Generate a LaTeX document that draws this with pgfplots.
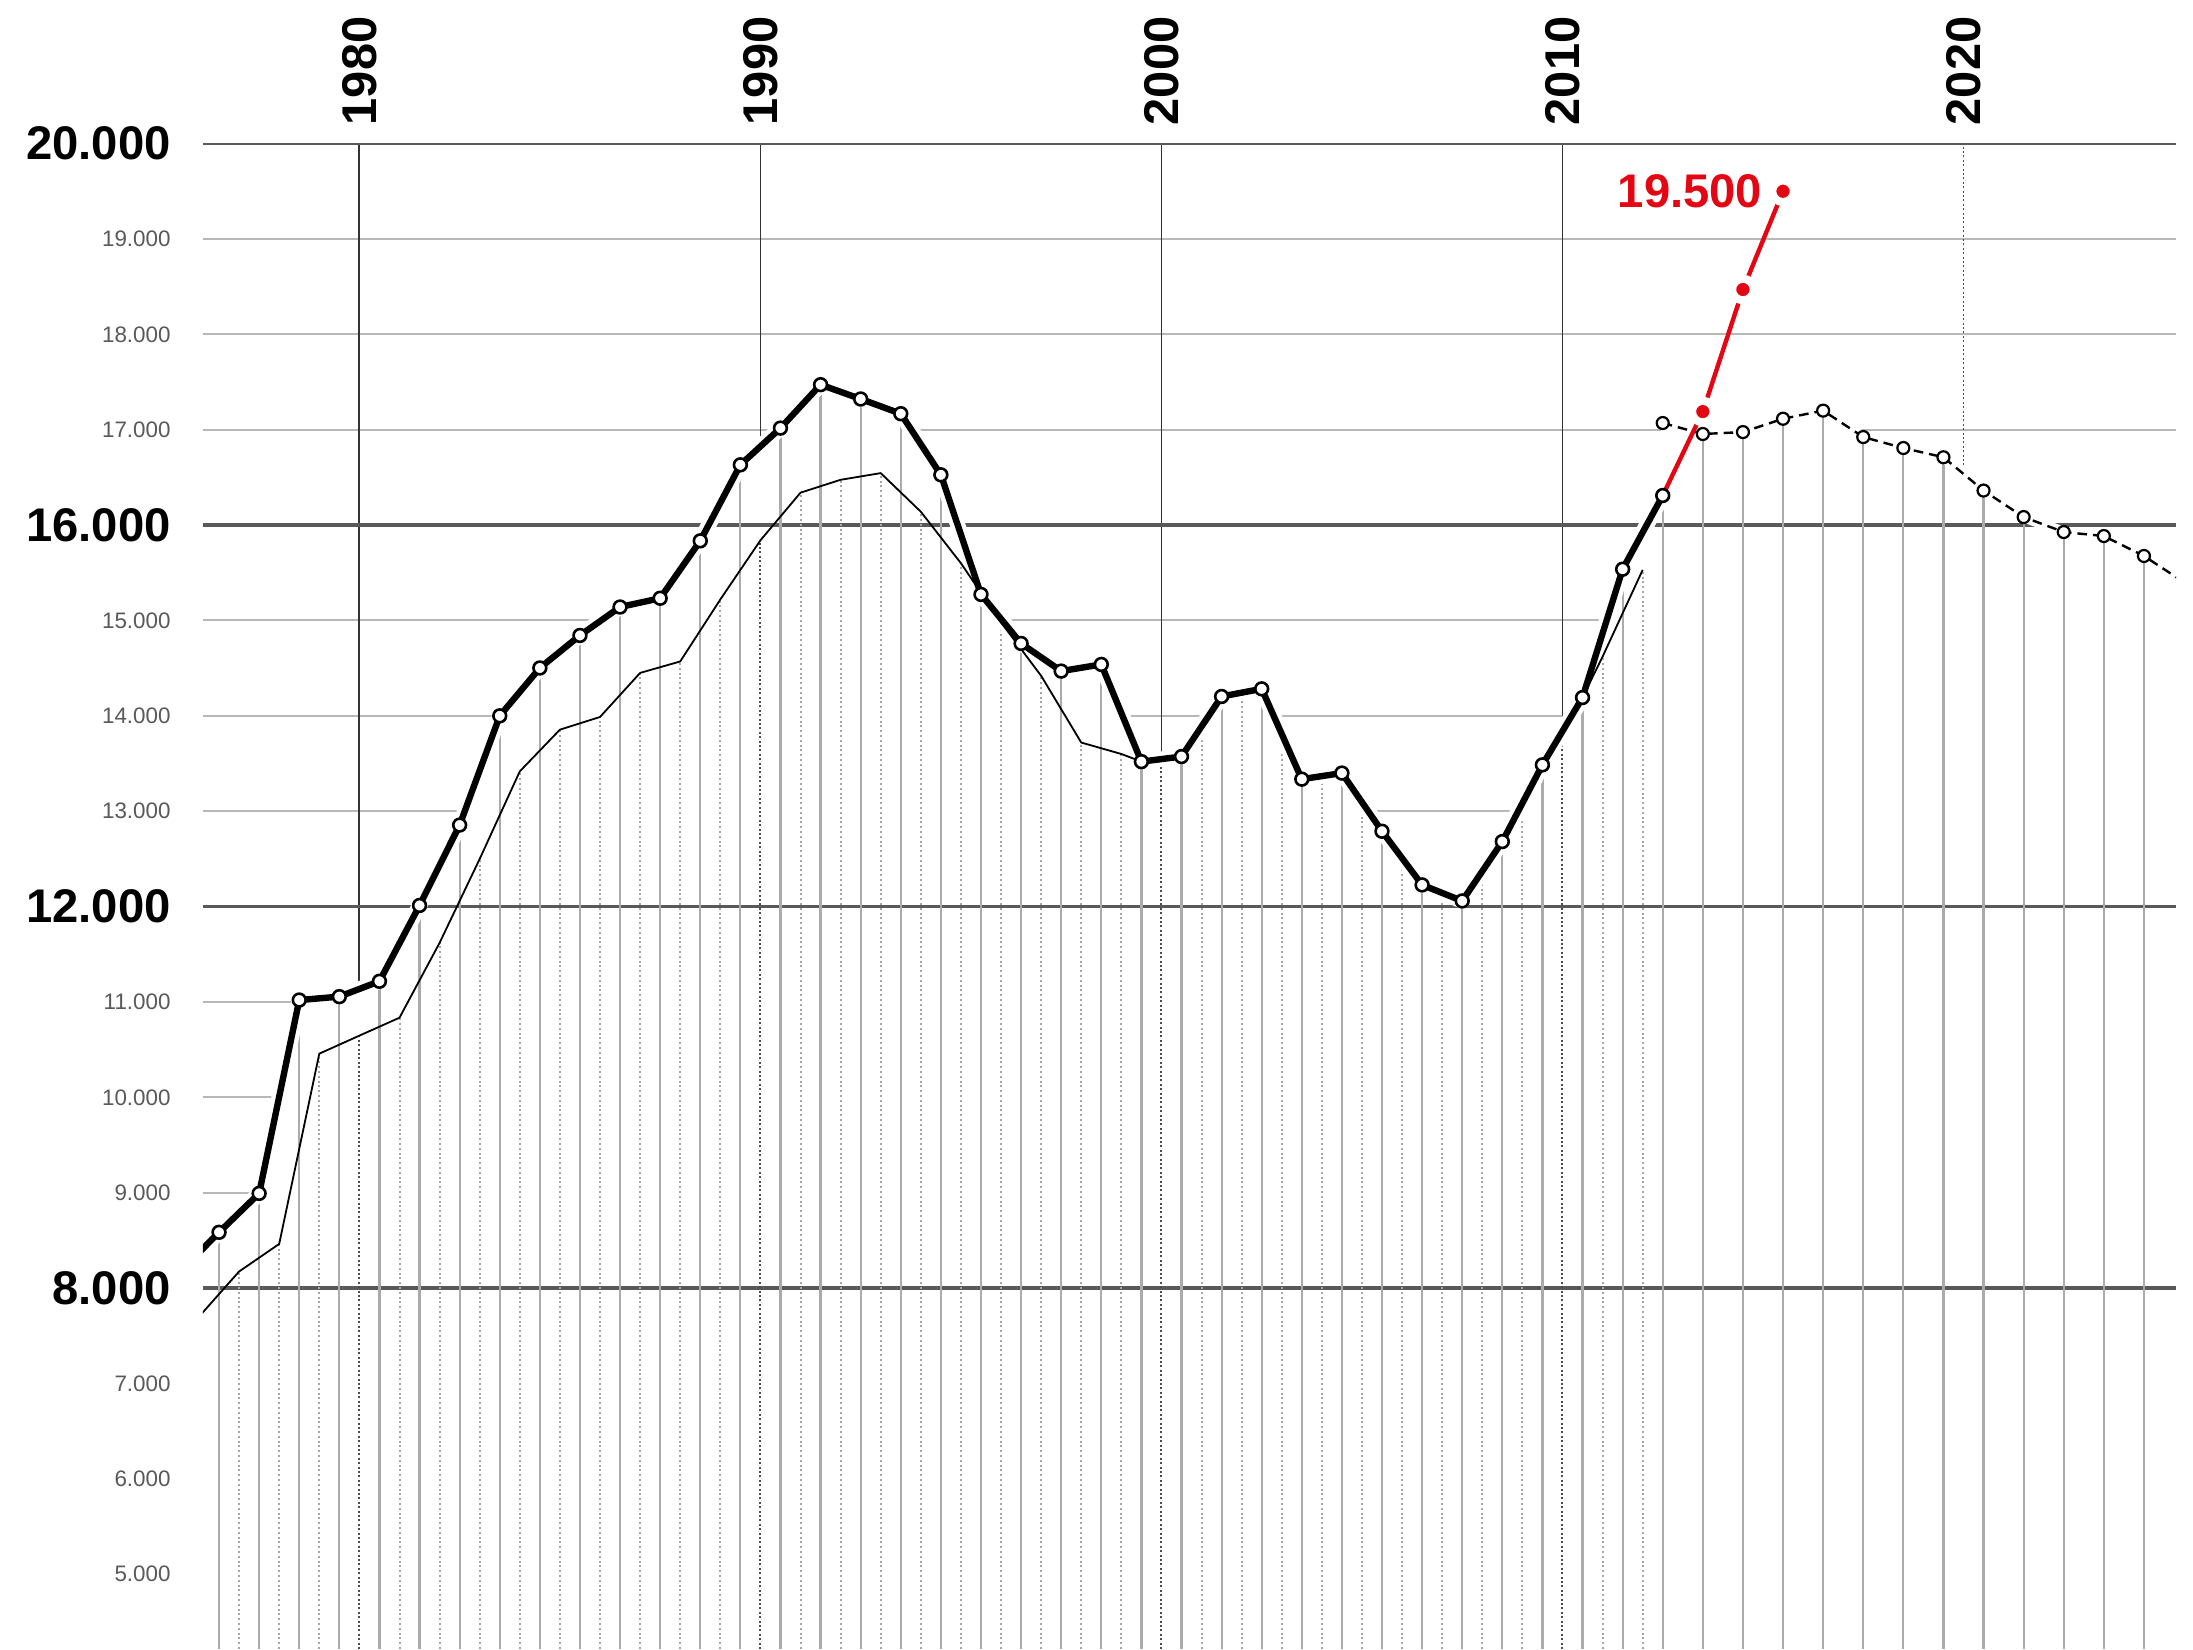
\documentclass[border=0pt]{standalone}
\usepackage{pgfplots}
\pgfplotsset{compat=1.18}
\usepackage{fontspec}
\setmainfont{Liberation Sans}
\definecolor{redline}{RGB}{227,6,19}
\begin{document}
\begin{tikzpicture}
\useasboundingbox (0,0) rectangle (548.25pt,412.25pt);
\begin{axis}[
  at={(50.75pt,0pt)}, anchor=south west,
  scale only axis, width=493.25pt, height=376.35pt,
  xmin=1976.1, xmax=2025.3, ymin=4216, ymax=20000,
  scaled y ticks=false, scaled x ticks=false,
  axis line style={draw=none}, major tick length=0pt, minor tick length=0pt,
  tick style={draw=none},
  xtick={1980,1990,2000,2010}, xticklabels={1980,1990,2000,2010},
  extra x ticks={2020}, extra x tick labels={2020},
  xticklabel pos=upper,
  xticklabel shift=4.4pt,
  xticklabel style={rotate=90, anchor=west, inner sep=0pt, font=\fontsize{12.2}{14}\selectfont\bfseries},
  ytick={5000,6000,7000,9000,10000,11000,13000,14000,15000,17000,18000,19000},
  yticklabels={5.000,6.000,7.000,9.000,10.000,11.000,13.000,14.000,15.000,17.000,18.000,19.000},
  yticklabel shift=7.9pt,
  yticklabel style={anchor=east, inner sep=0pt, text=black!65, font=\fontsize{5.6}{6.5}\selectfont},
  extra y ticks={8000,12000,16000,20000},
  extra y tick labels={8.000,12.000,16.000,20.000},
  extra y tick style={yticklabel style={text=black, font=\fontsize{11.8}{13}\selectfont\bfseries}},
  clip=true,
]
% minor horizontal grid
\pgfplotsinvokeforeach{5000,6000,7000,9000,10000,11000,13000,14000,15000,17000,18000,19000}{
  \draw[black!28, line width=0.5pt] (axis cs:1976.1,#1) -- (axis cs:2025.3,#1);
}
% decade lines
\pgfplotsinvokeforeach{1980,1990,2000,2010}{
  \draw[black!80, line width=0.45pt] (axis cs:#1,4216) -- (axis cs:#1,20000);
}
\draw[black!70, line width=0.45pt, dash pattern=on 0.5pt off 0.6pt] (axis cs:2020,4216) -- (axis cs:2020,20000);

% white area under the curves
\addplot[fill=white, draw=none] coordinates {
(1975.5,8160) (1976.5,8585) (1977.5,8993) (1978.5,11020) (1979.5,11056) (1980.5,11217)
(1981.5,12012) (1982.5,12855) (1983.5,14000) (1984.5,14502) (1985.5,14843) (1986.5,15141)
(1987.5,15233) (1988.5,15835) (1989.5,16632) (1990.5,17017) (1991.5,17472) (1992.5,17322)
(1993.5,17168) (1994.5,16527) (1995.5,15273) (1996.5,14759) (1997.5,14469) (1998.5,14539)
(1999.5,13520) (2000.5,13573) (2001.5,14203) (2002.5,14283) (2003.5,13336) (2004.5,13400)
(2005.5,12790) (2006.5,12227) (2007.5,12059) (2008.5,12682) (2009.5,13486) (2010.5,14192)
(2011.5,15537) (2012.5,17070) (2013.5,16955) (2014.5,16975) (2015.5,17115) (2016.5,17200)
(2017.5,16923) (2018.5,16808) (2019.5,16711) (2020.5,16362) (2021.5,16084) (2022.5,15927)
(2023.5,15885) (2024.5,15676) (2025.5,15400)} \closedcycle;

% major horizontal lines
\pgfplotsinvokeforeach{8000,12000,16000,20000}{
  \draw[black!65, line width=0.8pt] (axis cs:1976.1,#1) -- (axis cs:2025.3,#1);
}

% dotted drop lines (integer years)
\addplot[ycomb, black!35, line width=0.5pt, dash pattern=on 0.5pt off 0.7pt] coordinates {
(1977,8174) (1978,8463) (1979,10458) (1981,10835) (1982,11620) (1983,12500) (1984,13418)
(1985,13855) (1986,13988) (1987,14450) (1988,14570) (1989,15220) (1991,16340) (1992,16475)
(1993,16545) (1994,16140) (1995,15600) (1996,14980) (1997,14420) (1998,13720) (1999,13600)
(2001,13888) (2002,14243) (2003,13810) (2004,13368) (2005,13095) (2006,12508) (2007,12143)
(2008,12370) (2009,13084) (2011,14620) (2012,15530)};
\addplot[ycomb, black!70, line width=0.5pt, dash pattern=on 0.5pt off 0.6pt] coordinates {
(1980,10647) (1990,15840) (2000,13546) (2010,13839)};

% solid drop lines (mid-year points)
\addplot[ycomb, black!33, line width=0.55pt] coordinates {
(1976.5,8585) (1977.5,8993) (1978.5,11020) (1979.5,11056) (1980.5,11217)
(1981.5,12012) (1982.5,12855) (1983.5,14000) (1984.5,14502) (1985.5,14843) (1986.5,15141)
(1987.5,15233) (1988.5,15835) (1989.5,16632) (1990.5,17017) (1991.5,17472) (1992.5,17322)
(1993.5,17168) (1994.5,16527) (1995.5,15273) (1996.5,14759) (1997.5,14469) (1998.5,14539)
(1999.5,13520) (2000.5,13573) (2001.5,14203) (2002.5,14283) (2003.5,13336) (2004.5,13400)
(2005.5,12790) (2006.5,12227) (2007.5,12059) (2008.5,12682) (2009.5,13486) (2010.5,14192)
(2011.5,15537) (2012.5,16310) (2013.5,16955) (2014.5,16975) (2015.5,17115) (2016.5,17200)
(2017.5,16923) (2018.5,16808) (2019.5,16711) (2020.5,16362) (2021.5,16084) (2022.5,15927)
(2023.5,15885) (2024.5,15676)};

% white halos
\addplot[white, line width=3.8pt, line join=round] coordinates {
(1975.5,8160) (1976.5,8585) (1977.5,8993) (1978.5,11020) (1979.5,11056) (1980.5,11217)
(1981.5,12012) (1982.5,12855) (1983.5,14000) (1984.5,14502) (1985.5,14843) (1986.5,15141)
(1987.5,15233) (1988.5,15835) (1989.5,16632) (1990.5,17017) (1991.5,17472) (1992.5,17322)
(1993.5,17168) (1994.5,16527) (1995.5,15273) (1996.5,14759) (1997.5,14469) (1998.5,14539)
(1999.5,13520) (2000.5,13573) (2001.5,14203) (2002.5,14283) (2003.5,13336) (2004.5,13400)
(2005.5,12790) (2006.5,12227) (2007.5,12059) (2008.5,12682) (2009.5,13486) (2010.5,14192)
(2011.5,15537) (2012.5,16310)};
\addplot[white, line width=2.6pt, line join=round] coordinates {
(2012.5,17070) (2013.5,16955) (2014.5,16975) (2015.5,17115) (2016.5,17200)
(2017.5,16923) (2018.5,16808) (2019.5,16711) (2020.5,16362) (2021.5,16084) (2022.5,15927)
(2023.5,15885) (2024.5,15676) (2025.5,15400)};

% thin line
\addplot[black, line width=0.45pt, line join=round] coordinates {
(1976,7700) (1977,8174) (1978,8463) (1979,10458) (1980,10647) (1981,10835) (1982,11620)
(1983,12500) (1984,13418) (1985,13855) (1986,13988) (1987,14450) (1988,14570) (1989,15220)
(1990,15840) (1991,16340) (1992,16475) (1993,16545) (1994,16140) (1995,15600) (1996,14980)
(1997,14420) (1998,13720) (1999,13600) (1999.5,13520)};
\addplot[black, line width=0.45pt] coordinates {(2010.5,14192) (2011,14620) (2012,15530)};

% thick line
\addplot[black, line width=1.6pt, line join=round] coordinates {
(1975.5,8160) (1976.5,8585) (1977.5,8993) (1978.5,11020) (1979.5,11056) (1980.5,11217)
(1981.5,12012) (1982.5,12855) (1983.5,14000) (1984.5,14502) (1985.5,14843) (1986.5,15141)
(1987.5,15233) (1988.5,15835) (1989.5,16632) (1990.5,17017) (1991.5,17472) (1992.5,17322)
(1993.5,17168) (1994.5,16527) (1995.5,15273) (1996.5,14759) (1997.5,14469) (1998.5,14539)
(1999.5,13520) (2000.5,13573) (2001.5,14203) (2002.5,14283) (2003.5,13336) (2004.5,13400)
(2005.5,12790) (2006.5,12227) (2007.5,12059) (2008.5,12682) (2009.5,13486) (2010.5,14192)
(2011.5,15537) (2012.5,16310)};

% forecast dashed line
\addplot[black, line width=0.6pt, dash pattern=on 2.4pt off 1.5pt] coordinates {
(2012.5,17070) (2013.5,16955) (2014.5,16975) (2015.5,17115) (2016.5,17200)
(2017.5,16923) (2018.5,16808) (2019.5,16711) (2020.5,16362) (2021.5,16084) (2022.5,15927)
(2023.5,15885) (2024.5,15676) (2025.5,15400)};

% red line
\addplot[redline, line width=1.1pt] coordinates {
(2012.5,16310) (2013.5,17190) (2014.5,18470) (2015.5,19500)};

% thick markers
\addplot[only marks, mark=*, mark size=1.6pt, mark options={fill=white, draw=black, line width=0.65pt}] coordinates {
(1976.5,8585) (1977.5,8993) (1978.5,11020) (1979.5,11056) (1980.5,11217)
(1981.5,12012) (1982.5,12855) (1983.5,14000) (1984.5,14502) (1985.5,14843) (1986.5,15141)
(1987.5,15233) (1988.5,15835) (1989.5,16632) (1990.5,17017) (1991.5,17472) (1992.5,17322)
(1993.5,17168) (1994.5,16527) (1995.5,15273) (1996.5,14759) (1997.5,14469) (1998.5,14539)
(1999.5,13520) (2000.5,13573) (2001.5,14203) (2002.5,14283) (2003.5,13336) (2004.5,13400)
(2005.5,12790) (2006.5,12227) (2007.5,12059) (2008.5,12682) (2009.5,13486) (2010.5,14192)
(2011.5,15537) (2012.5,16310)};

% forecast markers
\addplot[only marks, mark=*, mark size=1.5pt, mark options={fill=white, draw=black, line width=0.55pt}] coordinates {
(2012.5,17070) (2013.5,16955) (2014.5,16975) (2015.5,17115) (2016.5,17200)
(2017.5,16923) (2018.5,16808) (2019.5,16711) (2020.5,16362) (2021.5,16084) (2022.5,15927)
(2023.5,15885) (2024.5,15676)};

% red dots
\addplot[only marks, mark=*, mark size=2.7pt, mark options={fill=redline, draw=white, line width=2pt}] coordinates {
(2013.5,17190) (2014.5,18470) (2015.5,19500)};

\node[anchor=east, inner sep=0pt, text=redline, font=\fontsize{11.8}{13}\selectfont\bfseries, xshift=-5pt] at (axis cs:2015.5,19500) {19.500};
\end{axis}
\end{tikzpicture}
\end{document}
